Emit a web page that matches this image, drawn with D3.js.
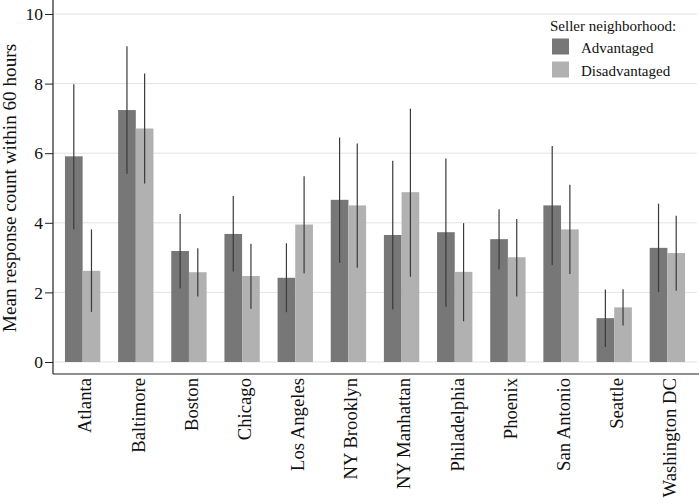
<!DOCTYPE html>
<html>
<head>
<meta charset="utf-8">
<script src="https://cdn.jsdelivr.net/npm/d3@7"></script>
<style>
  body { margin: 0; background: #fff; }
  text { font-family: "Liberation Serif", "DejaVu Serif", serif; }
</style>
</head>
<body>
<div id="vis"></div>
<script>
const cities = ["Atlanta", "Baltimore", "Boston", "Chicago", "Los Angeles", "NY Brooklyn",
  "NY Manhattan", "Philadelphia", "Phoenix", "San Antonio", "Seattle", "Washington DC"]
const groups = ["Advantaged", "Disadvantaged"]

// means and confidence bounds
const advMean = [5.91, 7.24, 3.19, 3.68, 2.42, 4.66, 3.65, 3.73, 3.53, 4.50, 1.26, 3.28]
const advLow  = [3.81, 5.41, 2.11, 2.60, 1.43, 2.85, 1.51, 1.59, 2.66, 2.79, 0.43, 2.01]
const advHigh = [7.98, 9.07, 4.25, 4.77, 3.41, 6.45, 5.78, 5.85, 4.39, 6.21, 2.08, 4.55]
const disMean = [2.62, 6.71, 2.58, 2.47, 3.95, 4.50, 4.88, 2.59, 3.01, 3.81, 1.57, 3.13]
const disLow  = [1.44, 5.13, 1.88, 1.53, 2.55, 2.71, 2.45, 1.17, 1.88, 2.53, 1.05, 2.05]
const disHigh = [3.81, 8.29, 3.27, 3.40, 5.34, 6.28, 7.28, 3.99, 4.11, 5.09, 2.09, 4.20]
const yTicks = [0, 2, 4, 6, 8, 10]

const colors = { Advantaged: "#777777", Disadvantaged: "#b1b1b1" }

const W = 700, H = 504
const plotLeft = 53, plotRight = 697, zeroY = 362, axisY = 374

const svg = d3.select("#vis").append("svg").attr("width", W).attr("height", H)

const x = d3.scaleBand().domain(cities).range([plotLeft, plotRight]).paddingInner(0.335).paddingOuter(0.225)
const xs = d3.scaleBand().domain(groups).range([0, x.bandwidth()])
const y = d3.scaleLinear().domain([0, 10]).range([zeroY, zeroY - 348])

const rows = []
cities.forEach((c, i) => {
  rows.push({ city: c, group: "Advantaged", mean: advMean[i], lo: advLow[i], hi: advHigh[i] })
  rows.push({ city: c, group: "Disadvantaged", mean: disMean[i], lo: disLow[i], hi: disHigh[i] })
})

// gridlines
svg.append("g").selectAll("line").data(yTicks).enter().append("line")
  .attr("x1", plotLeft).attr("x2", plotRight)
  .attr("y1", d => y(d)).attr("y2", d => y(d))
  .attr("stroke", "#e3e3e3").attr("stroke-width", 1)

// bars
svg.append("g").selectAll("rect").data(rows).enter().append("rect")
  .attr("x", d => x(d.city) + xs(d.group))
  .attr("width", xs.bandwidth())
  .attr("y", d => y(d.mean))
  .attr("height", d => y(0) - y(d.mean))
  .attr("fill", d => colors[d.group])

// error bars
svg.append("g").selectAll("line").data(rows).enter().append("line")
  .attr("x1", d => x(d.city) + xs(d.group) + xs.bandwidth() / 2)
  .attr("x2", d => x(d.city) + xs(d.group) + xs.bandwidth() / 2)
  .attr("y1", d => y(d.lo)).attr("y2", d => y(d.hi))
  .attr("stroke", "#3a3a3a").attr("stroke-width", 1.2)

// y axis
const yAxis = svg.append("g").attr("transform", `translate(${plotLeft},0)`)
  .call(d3.axisLeft(y).tickValues(yTicks).tickSize(8).tickPadding(2))
yAxis.select(".domain").remove()
yAxis.selectAll("text").attr("font-size", 17.5).attr("fill", "#111")
  .style("font-family", "Liberation Serif")
yAxis.selectAll(".tick line").attr("stroke", "#222")
svg.append("line").attr("x1", plotLeft).attr("x2", plotLeft).attr("y1", 0).attr("y2", axisY)
  .attr("stroke", "#222").attr("stroke-width", 1.2)

// x axis line and labels
svg.append("line").attr("x1", plotLeft).attr("x2", 699).attr("y1", axisY).attr("y2", axisY)
  .attr("stroke", "#222").attr("stroke-width", 1.2)
svg.append("g").selectAll("text").data(cities).enter().append("text")
  .attr("transform", d => `translate(${x(d) + x.bandwidth() / 2},${axisY + 4}) rotate(-90)`)
  .attr("text-anchor", "end")
  .attr("dy", "0.47em")
  .attr("font-size", 18.7)
  .attr("fill", "#111")
  .text(d => d)

// y title
svg.append("text")
  .attr("transform", `translate(9.5,${axisY / 2 + 1}) rotate(-90)`)
  .attr("text-anchor", "middle")
  .attr("dy", "0.35em")
  .attr("font-size", 19.2)
  .attr("fill", "#111")
  .text("Mean response count within 60 hours")

// legend
const lg = svg.append("g")
lg.append("text").attr("x", 550).attr("y", 31).attr("font-size", 15).attr("fill", "#111")
  .text("Seller neighborhood:")
groups.forEach((g, i) => {
  lg.append("rect").attr("x", 552).attr("y", 38.5 + i * 23).attr("width", 17).attr("height", 16)
    .attr("fill", colors[g])
  lg.append("text").attr("x", 581).attr("y", 52.5 + i * 23).attr("font-size", 15).attr("fill", "#111")
    .text(g)
})
</script>
</body>
</html>
